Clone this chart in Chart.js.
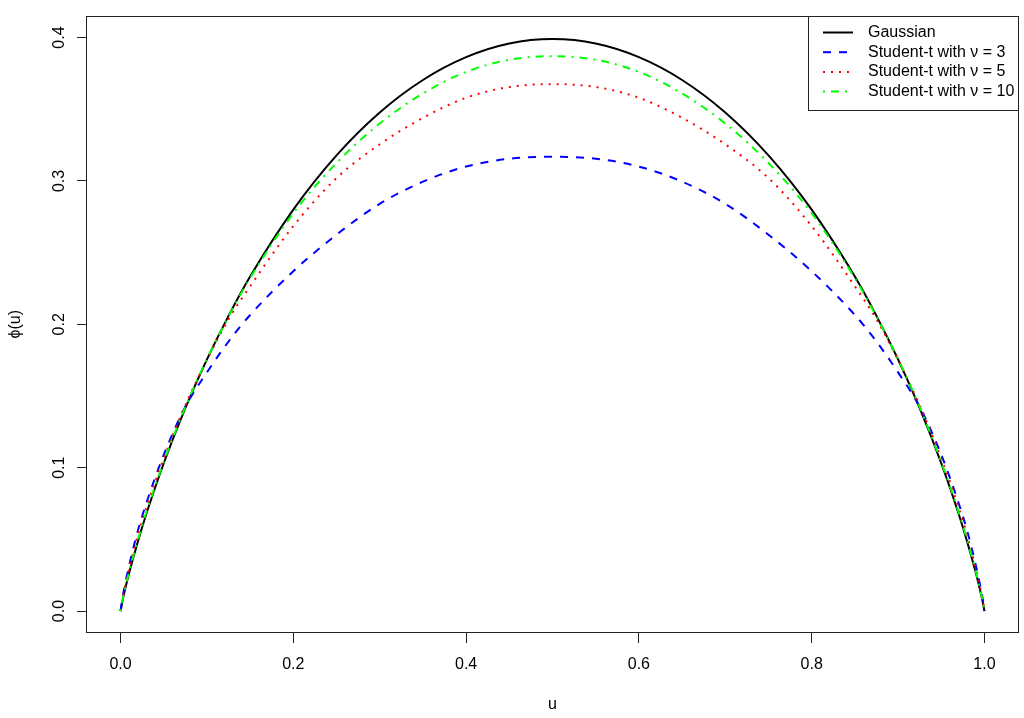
<!DOCTYPE html>
<html>
<head>
<meta charset="utf-8">
<script src="https://cdn.jsdelivr.net/npm/chart.js@4.4.0/dist/chart.umd.min.js"></script>
<style>
  html, body { margin: 0; padding: 0; background: #fff; }
  canvas { display: block; }
</style>
</head>
<body>
<canvas id="phiChart" width="1024" height="718"></canvas>
<script>
const u = [0, 0.002, 0.005, 0.01, 0.02, 0.03, 0.05, 0.075, 0.1, 0.125, 0.15, 0.2, 0.25, 0.3, 0.35, 0.4, 0.45, 0.5,
  0.55, 0.6, 0.65, 0.7, 0.75, 0.8, 0.85, 0.875, 0.9, 0.925, 0.95, 0.97, 0.98, 0.99, 0.995, 0.998, 1];
const gaussian = [0, 0.0063, 0.0145, 0.0267, 0.0484, 0.0680, 0.1031, 0.1415, 0.1755, 0.2059, 0.2333, 0.2800, 0.3178, 0.3477, 0.3704, 0.3863, 0.3958, 0.3989,
  0.3958, 0.3863, 0.3704, 0.3477, 0.3178, 0.2800, 0.2333, 0.2059, 0.1755, 0.1415, 0.1031, 0.0680, 0.0484, 0.0267, 0.0145, 0.0063, 0];
const student3 = [0, 0.0085, 0.0180, 0.0320, 0.0560, 0.0755, 0.1090, 0.1425, 0.1665, 0.1880, 0.2065, 0.2370, 0.2625, 0.2840, 0.2995, 0.3100, 0.3155, 0.3168,
  0.3155, 0.3100, 0.2995, 0.2840, 0.2625, 0.2370, 0.2065, 0.1880, 0.1665, 0.1425, 0.1090, 0.0755, 0.0560, 0.0320, 0.0180, 0.0085, 0];
const student5 = [0, 0.0075, 0.0165, 0.0295, 0.0530, 0.0725, 0.1065, 0.1435, 0.1752, 0.2035, 0.2265, 0.2685, 0.3020, 0.3255, 0.3440, 0.3580, 0.3655, 0.3675,
  0.3655, 0.3580, 0.3440, 0.3255, 0.3020, 0.2685, 0.2265, 0.2035, 0.1752, 0.1435, 0.1065, 0.0725, 0.0530, 0.0295, 0.0165, 0.0075, 0];
const student10 = [0, 0.0068, 0.0150, 0.0275, 0.0495, 0.0692, 0.1040, 0.1422, 0.1758, 0.2055, 0.2322, 0.2775, 0.3125, 0.3400, 0.3610, 0.3760, 0.3845, 0.3870,
  0.3845, 0.3760, 0.3610, 0.3400, 0.3125, 0.2775, 0.2322, 0.2055, 0.1758, 0.1422, 0.1040, 0.0692, 0.0495, 0.0275, 0.0150, 0.0068, 0];
const xTicks = [0, 0.2, 0.4, 0.6, 0.8, 1.0];
const yTicks = [0, 0.1, 0.2, 0.3, 0.4];
const legendLabels = ['Gaussian', 'Student-t with \u03BD = 3', 'Student-t with \u03BD = 5', 'Student-t with \u03BD = 10'];

const FONT = '"Liberation Sans", Arial, sans-serif';
const toPoints = ys => u.map((x, i) => ({ x: x, y: ys[i] }));

// caixa do gráfico + legenda no estilo R
const rBox = {
  id: 'rBox',
  afterDraw(chart) {
    const c = chart.ctx;
    const a = chart.chartArea;
    c.save();
    c.strokeStyle = '#222';
    c.lineWidth = 1;
    c.strokeRect(Math.round(a.left) + 0.5, Math.round(a.top) + 0.5, Math.round(a.right - a.left) - 1, Math.round(a.bottom - a.top) - 1);

    const lx = 808, ly = Math.round(a.top);
    c.strokeRect(lx + 0.5, ly + 0.5, Math.round(a.right) - lx - 1, 94);
    c.font = '16px ' + FONT;
    c.textBaseline = 'middle';
    c.fillStyle = '#000';
    chart.data.datasets.forEach((ds, i) => {
      const y = 32.5 + i * 19.7;
      c.beginPath();
      c.setLineDash(ds.borderDash || []);
      c.strokeStyle = ds.borderColor;
      c.lineWidth = ds.borderWidth;
      c.moveTo(823, y);
      c.lineTo(853, y);
      c.stroke();
      c.setLineDash([]);
      c.fillText(legendLabels[i], 868, y);
    });
    c.restore();
  }
};

const ctx = document.getElementById('phiChart').getContext('2d');
const chart = new Chart(ctx, {
  type: 'line',
  data: {
    datasets: [
      { label: legendLabels[0], data: toPoints(gaussian), borderColor: '#000000', borderWidth: 2, borderDash: [], order: 3 },
      { label: legendLabels[1], data: toPoints(student3), borderColor: '#0000FF', borderWidth: 2, borderDash: [8, 8], order: 2 },
      { label: legendLabels[2], data: toPoints(student5), borderColor: '#FF0000', borderWidth: 2, borderDash: [2, 6], order: 1 },
      { label: legendLabels[3], data: toPoints(student10), borderColor: '#00FF00', borderWidth: 2, borderDash: [2, 6, 8, 6], order: 0 }
    ]
  },
  options: {
    responsive: false,
    animation: false,
    devicePixelRatio: 1,
    layout: { padding: { top: 14, right: 5, left: 0, bottom: 0 } },
    elements: {
      point: { radius: 0 },
      line: { cubicInterpolationMode: 'monotone', fill: false }
    },
    plugins: {
      legend: { display: false },
      tooltip: { enabled: false }
    },
    scales: {
      x: {
        type: 'linear',
        min: -0.04,
        max: 1.04,
        afterBuildTicks: s => { s.ticks = xTicks.map(v => ({ value: v })); },
        afterFit: s => { s.height = 85; },
        grid: { drawOnChartArea: false, drawTicks: true, tickLength: 10, color: '#222' },
        border: { display: false },
        ticks: { color: '#000', font: { size: 16, family: FONT }, padding: 12, maxRotation: 0, autoSkip: false, callback: v => v.toFixed(1) },
        title: { display: true, text: 'u', color: '#000', font: { size: 16, family: FONT }, padding: { top: 0, bottom: 4 } }
      },
      y: {
        type: 'linear',
        min: -0.0153,
        max: 0.4153,
        afterBuildTicks: s => { s.ticks = yTicks.map(v => ({ value: v })); },
        afterFit: s => { s.width = 86; },
        grid: { drawOnChartArea: false, drawTicks: true, tickLength: 9, color: '#222' },
        border: { display: false },
        ticks: { color: '#000', font: { size: 16, family: FONT }, padding: 6, minRotation: 90, maxRotation: 90, crossAlign: 'center', autoSkip: false, callback: v => v.toFixed(1) },
        title: { display: true, text: '\u03D5(u)', color: '#000', font: { size: 16, family: FONT }, padding: { top: 6, bottom: 0 } }
      }
    }
  },
  plugins: [rBox]
});
</script>
</body>
</html>
